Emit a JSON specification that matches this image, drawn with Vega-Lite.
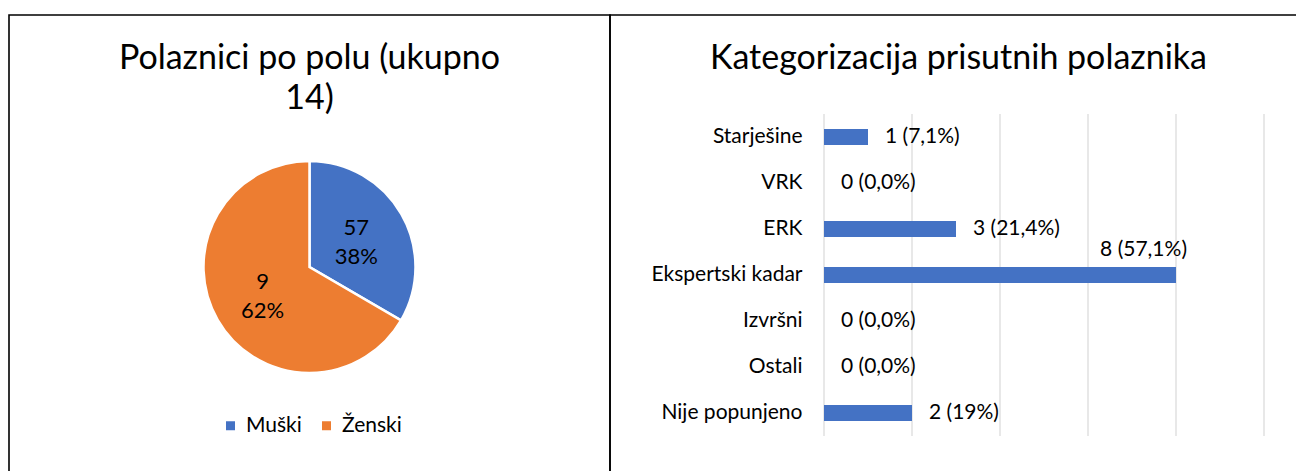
{
  "$schema": "https://vega.github.io/schema/vega-lite/v6.json",
  "padding": {"left": 8, "top": 14, "right": 0, "bottom": 0},
  "spacing": 0,
  "bounds": "flush",
  "config": {
    "view": {"stroke": "#000000", "strokeWidth": 1.6},
    "font": "Lato",
    "text": {"font": "Lato", "color": "#000000"}
  },
  "hconcat": [
    {
      "width": 601,
      "height": 504,
      "view": {"stroke": "#000000", "strokeWidth": 1.6},
      "title": {
        "text": ["Polaznici po polu (ukupno", "14)"],
        "font": "Lato", "fontSize": 34, "fontWeight": "normal", "color": "#000000",
        "anchor": "middle", "frame": "group", "baseline": "top", "offset": -101, "lineHeight": 40
      },
      "data": {"values": [
        {"spol": "Muški", "udio": 33.4, "oznaka": "57\n38%"},
        {"spol": "Ženski", "udio": 66.6, "oznaka": "9\n62%"}
      ]},
      "encoding": {
        "theta": {"field": "udio", "type": "quantitative", "stack": true},
        "color": {
          "field": "spol", "type": "nominal",
          "scale": {"domain": ["Muški", "Ženski"], "range": ["#4472C4", "#ED7D31"]},
          "legend": {
            "orient": "none", "legendX": 211, "legendY": 400, "direction": "horizontal",
            "title": null, "symbolType": "square", "symbolSize": 81, "symbolStrokeWidth": 0,
            "labelFont": "Lato", "labelFontSize": 21, "labelColor": "#000000",
            "columnPadding": 14, "labelOffset": 5
          }
        }
      },
      "layer": [
        {"mark": {"type": "arc", "outerRadius": 106, "stroke": "#ffffff", "strokeWidth": 2.5}},
        {
          "mark": {"type": "text", "radius": 54, "dy": -12, "fontSize": 22, "lineBreak": "\n", "lineHeight": 29, "color": "#000000"},
          "encoding": {"text": {"field": "oznaka"}, "color": {"value": "#000000"}}
        }
      ]
    },
    {
      "width": 687,
      "height": 504,
      "title": {
        "text": "Kategorizacija prisutnih polaznika",
        "font": "Lato", "fontSize": 34, "fontWeight": "normal", "color": "#000000",
        "anchor": "middle", "frame": "group", "baseline": "top", "offset": -61, "dx": 5
      },
      "layer": [
        {
          "data": {"values": [{"g": 0}, {"g": 2}, {"g": 4}, {"g": 6}, {"g": 8}, {"g": 10}]},
          "mark": {"type": "rule", "color": "#d9d9d9", "strokeWidth": 1.2},
          "encoding": {
            "x": {"field": "g", "type": "quantitative", "scale": {"domain": [0, 10], "range": [214, 654]}, "axis": null},
            "y": {"datum": 0, "type": "quantitative", "scale": {"domain": [0, 1], "range": [99, 421]}, "axis": null},
            "y2": {"datum": 1}
          }
        },
        {
          "data": {"values": [
            {"kat": "Starješine", "n": 1, "lbl": "1 (7,1%)"},
            {"kat": "VRK", "n": 0, "lbl": "0 (0,0%)"},
            {"kat": "ERK", "n": 3, "lbl": "3 (21,4%)"},
            {"kat": "Ekspertski kadar", "n": 8, "lbl": "8 (57,1%)"},
            {"kat": "Izvršni", "n": 0, "lbl": "0 (0,0%)"},
            {"kat": "Ostali", "n": 0, "lbl": "0 (0,0%)"},
            {"kat": "Nije popunjeno", "n": 2, "lbl": "2 (19%)"}
          ]},
          "encoding": {
            "y": {
              "field": "kat", "type": "nominal", "sort": null,
              "scale": {
                "domain": ["Starješine", "VRK", "ERK", "Ekspertski kadar", "Izvršni", "Ostali", "Nije popunjeno"],
                "range": [99, 421], "paddingInner": 0.65, "paddingOuter": 0.325
              },
              "axis": {
                "orient": "left", "offset": -214, "domain": false, "ticks": false, "grid": false,
                "labelPadding": 22, "labelFont": "Lato", "labelFontSize": 21, "labelColor": "#000000", "title": null
              }
            },
            "x": {"field": "n", "type": "quantitative", "scale": {"domain": [0, 10], "range": [214, 654]}, "axis": null}
          },
          "layer": [
            {"mark": {"type": "bar", "color": "#4472C4"}},
            {
              "transform": [{"filter": "datum.n < 8"}],
              "mark": {"type": "text", "align": "left", "baseline": "middle", "dx": 17, "fontSize": 21, "color": "#000000"},
              "encoding": {"text": {"field": "lbl"}}
            },
            {
              "transform": [{"filter": "datum.n == 8"}],
              "mark": {"type": "text", "align": "right", "baseline": "middle", "dx": 11, "dy": -25, "fontSize": 21, "color": "#000000"},
              "encoding": {"text": {"field": "lbl"}}
            }
          ]
        }
      ],
      "resolve": {"scale": {"y": "independent"}, "axis": {"y": "independent"}}
    }
  ]
}
